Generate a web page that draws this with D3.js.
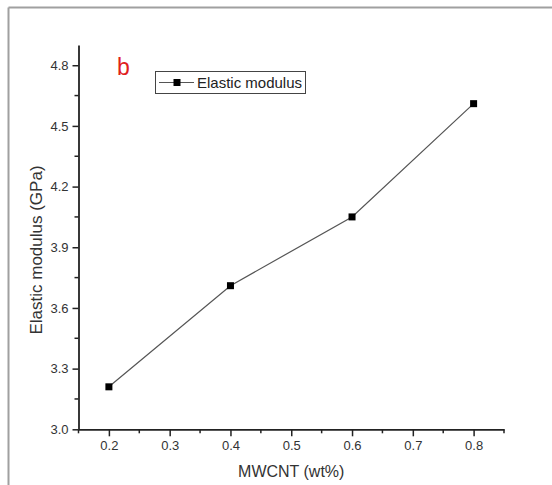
<!DOCTYPE html>
<html>
<head>
<meta charset="utf-8">
<script src="https://cdn.jsdelivr.net/npm/d3@7"></script>
<style>
  html, body { margin: 0; padding: 0; background: #fff; }
  svg { display: block; font-family: "Liberation Sans", Arial, sans-serif; }
</style>
</head>
<body>
<svg id="chart" width="552" height="485"></svg>
<script>
// ---- data ----
const mwcnt = [0.2, 0.4, 0.6, 0.8];            // MWCNT (wt%)
const elasticModulus = [3.21, 3.71, 4.05, 4.61]; // GPa
const xTickValues = [0.2, 0.3, 0.4, 0.5, 0.6, 0.7, 0.8];
const yTickValues = [3.0, 3.3, 3.6, 3.9, 4.2, 4.5, 4.8];
const seriesName = "Elastic modulus";
const panelLabel = "b";
const xTitle = "MWCNT (wt%)";
const yTitle = "Elastic modulus (GPa)";

const svg = d3.select("#chart");

// screenshot frame (top and left edges)
svg.append("line").attr("x1", 8.5).attr("x2", 552).attr("y1", 7.5).attr("y2", 7.5)
  .attr("stroke", "#a0a0a0").attr("stroke-width", 2);
svg.append("line").attr("x1", 8.5).attr("x2", 8.5).attr("y1", 7.5).attr("y2", 485)
  .attr("stroke", "#a0a0a0").attr("stroke-width", 2);

const x = d3.scaleLinear().domain([0.15, 0.85]).range([78.5, 504]);
const y = d3.scaleLinear().domain([3.0, 4.9]).range([429.3, 45]);

const axisColor = "#222";

// minor ticks
const xMinor = d3.range(0.15, 0.86, 0.1).map(v => +v.toFixed(2));
const yMinor = d3.range(3.15, 4.9, 0.3).map(v => +v.toFixed(2));

// X axis
const gx = svg.append("g").attr("transform", `translate(0,${y(3.0)})`);
gx.call(d3.axisBottom(x).tickValues(xTickValues).tickFormat(d3.format(".1f"))
  .tickSizeInner(7).tickSizeOuter(0).tickPadding(4));
gx.selectAll(".minor").data(xMinor).enter().append("line")
  .attr("x1", d => x(d)).attr("x2", d => x(d)).attr("y1", 0).attr("y2", 4)
  .attr("stroke", axisColor).attr("stroke-width", 1.5);
// Y axis
const gy = svg.append("g").attr("transform", `translate(${x(0.15)},0)`);
gy.call(d3.axisLeft(y).tickValues(yTickValues).tickFormat(d3.format(".1f"))
  .tickSizeInner(6).tickSizeOuter(0).tickPadding(4));
gy.selectAll(".minor").data(yMinor).enter().append("line")
  .attr("x1", 0).attr("x2", -4).attr("y1", d => y(d)).attr("y2", d => y(d))
  .attr("stroke", axisColor).attr("stroke-width", 1.5);

[gx, gy].forEach(g => {
  g.select(".domain").attr("stroke", axisColor).attr("stroke-width", 1.8);
  g.selectAll(".tick line").attr("stroke", axisColor).attr("stroke-width", 1.5);
  g.selectAll(".tick text").attr("fill", "#333").style("font-size", "13px")
    .style("font-family", "'Liberation Sans', Arial, sans-serif");
});

// axis titles
svg.append("text").attr("x", (x(0.15) + x(0.85)) / 2).attr("y", 477)
  .attr("text-anchor", "middle").attr("fill", "#333").style("font-size", "16px")
  .text(xTitle);
svg.append("text").attr("transform", `translate(42,${250}) rotate(-90)`)
  .attr("text-anchor", "middle").attr("fill", "#333").style("font-size", "17px")
  .text(yTitle);

// line + markers
const pts = mwcnt.map((v, i) => [v, elasticModulus[i]]);
svg.append("path").datum(pts)
  .attr("fill", "none").attr("stroke", "#555").attr("stroke-width", 1.2)
  .attr("d", d3.line().x(d => x(d[0])).y(d => y(d[1])));
svg.selectAll(".pt").data(pts).enter().append("rect")
  .attr("x", d => x(d[0]) - 3.5).attr("y", d => y(d[1]) - 3.5)
  .attr("width", 7).attr("height", 7).attr("fill", "#000");

// panel label
svg.append("text").attr("x", 117).attr("y", 75).attr("fill", "#e0201c")
  .style("font-size", "23px").text(panelLabel);

// legend
const lg = svg.append("g");
lg.append("rect").attr("x", 155.5).attr("y", 71.5).attr("width", 150).attr("height", 22)
  .attr("fill", "#fff").attr("stroke", "#444").attr("stroke-width", 1);
lg.append("line").attr("x1", 159).attr("x2", 194).attr("y1", 82.5).attr("y2", 82.5)
  .attr("stroke", "#555").attr("stroke-width", 1.2);
lg.append("rect").attr("x", 173.5).attr("y", 79).attr("width", 7).attr("height", 7).attr("fill", "#000");
lg.append("text").attr("x", 197).attr("y", 88).attr("fill", "#222").style("font-size", "15px")
  .text(seriesName);
</script>
</body>
</html>
